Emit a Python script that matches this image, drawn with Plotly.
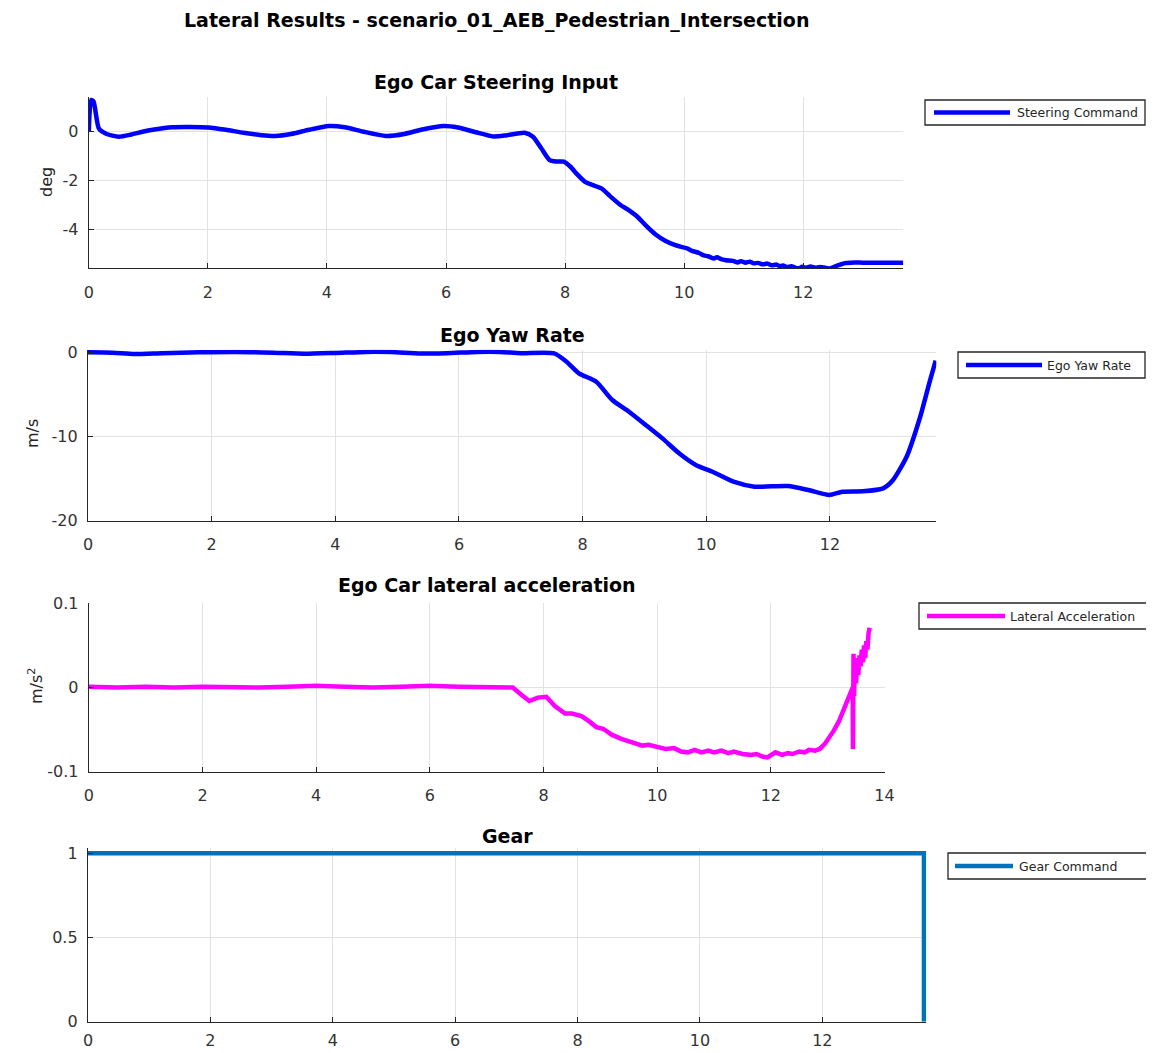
import plotly.graph_objects as go

# ---------------- data ----------------
steer_t = [0, 0.04, 0.08, 0.17, 0.3, 0.5, 0.7, 0.9, 1.1, 1.4, 1.7, 2.0, 2.3, 2.6, 2.9, 3.13,
           3.4, 3.7, 4.03, 4.3, 4.6, 4.99, 5.3, 5.6, 5.96, 6.2, 6.5, 6.79, 7.0, 7.32, 7.46,
           7.6, 7.74, 7.85, 7.98, 8.09, 8.2, 8.33, 8.45, 8.61, 8.75, 8.93, 9.05, 9.21, 9.35,
           9.52, 9.68, 9.84, 9.95, 10.05, 10.12, 10.25, 10.33, 10.4, 10.5, 10.55, 10.62, 10.7,
           10.82, 10.9, 10.95, 11.03, 11.1, 11.17, 11.24, 11.32, 11.4, 11.47, 11.55, 11.6,
           11.66, 11.73, 11.8, 11.87, 11.93, 11.98, 12.05, 12.12, 12.2, 12.28, 12.35, 12.45,
           12.55, 12.62, 12.7, 12.8, 13.0, 13.3, 13.68]
steer_deg = [0, 1.26, 1.2, 0.1, -0.12, -0.23, -0.15, -0.03, 0.06, 0.15, 0.16, 0.14, 0.05, -0.07,
             -0.17, -0.2, -0.12, 0.05, 0.2, 0.15, -0.02, -0.2, -0.12, 0.06, 0.2, 0.14, -0.05,
             -0.22, -0.18, -0.07, -0.23, -0.7, -1.18, -1.24, -1.24, -1.45, -1.75, -2.05, -2.18,
             -2.33, -2.63, -3.0, -3.18, -3.47, -3.82, -4.2, -4.45, -4.62, -4.7, -4.76, -4.85,
             -4.95, -5.05, -5.08, -5.17, -5.12, -5.2, -5.24, -5.27, -5.33, -5.28, -5.34, -5.3,
             -5.37, -5.35, -5.41, -5.38, -5.45, -5.42, -5.48, -5.46, -5.52, -5.49, -5.55, -5.57,
             -5.51, -5.55, -5.5, -5.55, -5.52, -5.54, -5.58, -5.48, -5.42, -5.36, -5.34, -5.34,
             -5.34, -5.34]

yaw_t = [0, 0.4, 0.75, 1.2, 1.8, 2.4, 3.0, 3.5, 4.0, 4.5, 4.9, 5.38, 5.8, 6.3, 6.66, 7.0, 7.54,
         7.74, 7.94, 8.22, 8.48, 8.75, 9.02, 9.29, 9.56, 9.83, 10.1, 10.44, 10.78, 11.32, 11.65,
         11.99, 12.2, 12.53, 12.86, 13.02, 13.24, 13.46, 13.62, 13.71]
yaw_rate = [0.05, 0.0, -0.15, -0.05, 0.05, 0.1, 0.0, -0.12, -0.02, 0.1, 0.08, -0.1, -0.05, 0.1,
            0.1, -0.05, -0.08, -1.07, -2.45, -3.45, -5.63, -7.02, -8.6, -10.2, -11.98, -13.37,
            -14.17, -15.36, -15.95, -15.87, -16.35, -16.94, -16.55, -16.5, -16.15, -15.15,
            -12.38, -7.62, -3.25, -0.95]

lat_t = [0, 0.5, 1.0, 1.5, 2.0, 2.5, 3.0, 3.5, 4.0, 4.5, 5.0, 5.5, 6.0, 6.5, 7.0, 7.46, 7.6,
         7.75, 7.9, 8.05, 8.2, 8.38, 8.5, 8.67, 8.8, 8.93, 9.05, 9.2, 9.37, 9.5, 9.62, 9.74,
         9.85, 10.03, 10.15, 10.3, 10.42, 10.54, 10.66, 10.78, 10.9, 11.0, 11.13, 11.25, 11.35,
         11.5, 11.64, 11.75, 11.85, 11.94, 12.08, 12.2, 12.3, 12.38, 12.5, 12.6, 12.67, 12.78,
         12.86, 12.95, 13.05, 13.11, 13.2, 13.33, 13.4, 13.44, 13.445, 13.455, 13.465, 13.48,
         13.5, 13.52, 13.54, 13.56, 13.58, 13.6, 13.62, 13.64, 13.66, 13.68, 13.7, 13.72, 13.74]
lat_acc = [0.001, 0.0, 0.001, 0.0, 0.001, 0.0, 0.0, 0.001, 0.002, 0.001, 0.0, 0.001, 0.002,
           0.001, 0.0, 0.0, -0.008, -0.016, -0.012, -0.011, -0.022, -0.031, -0.031, -0.034,
           -0.04, -0.047, -0.049, -0.056, -0.061, -0.064, -0.066, -0.069, -0.068, -0.071,
           -0.073, -0.072, -0.076, -0.077, -0.074, -0.077, -0.075, -0.077, -0.075, -0.078,
           -0.076, -0.079, -0.08, -0.079, -0.082, -0.083, -0.077, -0.08, -0.078, -0.079,
           -0.076, -0.077, -0.074, -0.075, -0.073, -0.067, -0.058, -0.051, -0.04, -0.019,
           -0.008, 0.0, -0.073, 0.04, -0.01, 0.035, 0.005, 0.03, 0.015, 0.038, 0.025, 0.045,
           0.03, 0.05, 0.035, 0.055, 0.045, 0.065, 0.071]

gear_t = [0, 13.66, 13.66]
gear_cmd = [1, 1, 0]

main_title = "Lateral Results - scenario_01_AEB_Pedestrian_Intersection"
sub_titles = ["Ego Car Steering Input", "Ego Yaw Rate", "Ego Car lateral acceleration", "Gear"]
y_labels = ["deg", "m/s", "m/s<sup>2</sup>"]
series_names = ["Steering Command", "Ego Yaw Rate", "Lateral Acceleration", "Gear Command"]
x_ticks_a = [0, 2, 4, 6, 8, 10, 12]
x_ticks_b = [0, 2, 4, 6, 8, 10, 12, 14]
y_ticks = [[-4, -2, 0], [-20, -10, 0], [-0.1, 0, 0.1], [0, 0.5, 1]]
y_tick_text = [["-4", "-2", "0"], ["-20", "-10", "0"], ["-0.1", "0", "0.1"], ["0", "0.5", "1"]]

# ---------------- layout helpers ----------------
# page body has an 8px margin: the figure is drawn from (8, 8) to the window's edge
OFF = 8
W, H = 1154 - OFF, 1053 - OFF
FONT = "DejaVu Sans"
AX = "#262626"


def px(x):
    return (x - OFF) / W


def py(y):
    return 1 - (y - OFF) / H


fig = go.Figure()
colors = ["#0000FF", "#0000FF", "#FF00FF", "#0072BD"]
xs = [steer_t, yaw_t, lat_t, gear_t]
ys = [steer_deg, yaw_rate, lat_acc, gear_cmd]
shapes_line = ["spline", "spline", "linear", "linear"]
for i in range(4):
    line = dict(color=colors[i], width=4.5, shape=shapes_line[i])
    if shapes_line[i] == "spline":
        line["smoothing"] = 0.6
    fig.add_trace(go.Scatter(
        x=xs[i], y=ys[i], mode="lines", name=series_names[i], line=line,
        xaxis="x" if i == 0 else f"x{i+1}", yaxis="y" if i == 0 else f"y{i+1}",
        showlegend=False))

# pixel geometry: (x_left, x_right), (y_top, y_bottom), x range, y range, x ticks, label standoff
geom = [
    ((88.8, 903.3), (97.0, 268.3), [0, 13.68], [-5.57, 1.38], x_ticks_a, 9),
    ((88.0, 936.3), (349.8, 520.7), [0, 13.72], [-20, 0.35], x_ticks_a, 9),
    ((88.8, 884.5), (603.3, 771.7), [0, 14], [-0.1, 0.1], x_ticks_b, 9),
    ((88.0, 926.4), (848.3, 1021.7), [0, 13.7], [0, 1.03], x_ticks_a, 4),
]

layout = dict(
    width=W, height=H, autosize=False,
    margin=dict(l=0, r=0, t=0, b=0, pad=0),
    paper_bgcolor="white", plot_bgcolor="white",
    font=dict(family=FONT, size=16, color=AX),
    showlegend=False,
)
annotations = []
shapes = []
for i, ((xl, xr), (yt, yb), xr_, yr_, xt, sto) in enumerate(geom):
    sfx = "" if i == 0 else str(i + 1)
    common = dict(showline=True, linecolor=AX, linewidth=1.3, mirror=False,
                  ticks="inside", ticklen=5, tickwidth=1, tickcolor=AX,
                  showgrid=True, gridcolor="#e2e2e2", gridwidth=1, zeroline=False,
                  automargin=False,
                  tickfont=dict(family=FONT, size=16, color="#333333"))
    layout[f"xaxis{sfx}"] = dict(domain=[px(xl), px(xr)], range=xr_, tickvals=xt,
                                 ticktext=[str(v) for v in xt],
                                 anchor=f"y{sfx}", ticklabelstandoff=sto, **common)
    layout[f"yaxis{sfx}"] = dict(domain=[py(yb), py(yt)], range=yr_, tickvals=y_ticks[i],
                                 ticktext=y_tick_text[i],
                                 anchor=f"x{sfx}", ticklabelstandoff=6, **common)

# main title
annotations.append(dict(text=main_title, x=px(496.5), y=py(21), xref="paper", yref="paper",
                        xanchor="center", yanchor="middle", showarrow=False,
                        font=dict(family=FONT, size=19, color="black", weight="bold")))

# subplot titles
title_pos = [(496.0, 82), (512.0, 335), (486.6, 585), (507.0, 836)]
for (tx, ty), t in zip(title_pos, sub_titles):
    annotations.append(dict(text=t, x=px(tx), y=py(ty), xref="paper", yref="paper",
                            xanchor="center", yanchor="middle", showarrow=False,
                            font=dict(family=FONT, size=19, color="black", weight="bold")))

# y axis labels
ylab_pos = [(46, 182), (32, 434), (35, 686)]
for (lx, ly), t in zip(ylab_pos, y_labels):
    annotations.append(dict(text=t, x=px(lx), y=py(ly), xref="paper", yref="paper",
                            xanchor="center", yanchor="middle", showarrow=False, textangle=-90,
                            font=dict(family=FONT, size=16, color=AX)))

# legends (box, line sample, text)
leg_geom = [
    ((925, 100, 1145, 125), (934, 1010), 1015),
    ((958, 352, 1145, 378), (966, 1042), 1045),
    ((919, 603, 1150, 629), (927, 1005), 1008),
    ((948, 853, 1151, 879), (955, 1013), 1017),
]
for i, ((bx0, by0, bx1, by1), (lx0, lx1), tx) in enumerate(leg_geom):
    shapes.append(dict(type="rect", xref="paper", yref="paper",
                       x0=px(bx0), x1=px(bx1), y0=py(by1), y1=py(by0),
                       line=dict(color=AX, width=1.3), fillcolor="white", layer="above"))
    cy = (by0 + by1) / 2
    shapes.append(dict(type="line", xref="paper", yref="paper",
                       x0=px(lx0), x1=px(lx1), y0=py(cy), y1=py(cy),
                       line=dict(color=colors[i], width=4.5), layer="above"))
    annotations.append(dict(text=series_names[i], x=px(tx), y=py(cy), xref="paper", yref="paper",
                            xanchor="left", yanchor="middle", showarrow=False,
                            font=dict(family=FONT, size=12.5, color=AX)))

layout["annotations"] = annotations
layout["shapes"] = shapes
fig.update_layout(**layout)
fig.write_html("out.html")
